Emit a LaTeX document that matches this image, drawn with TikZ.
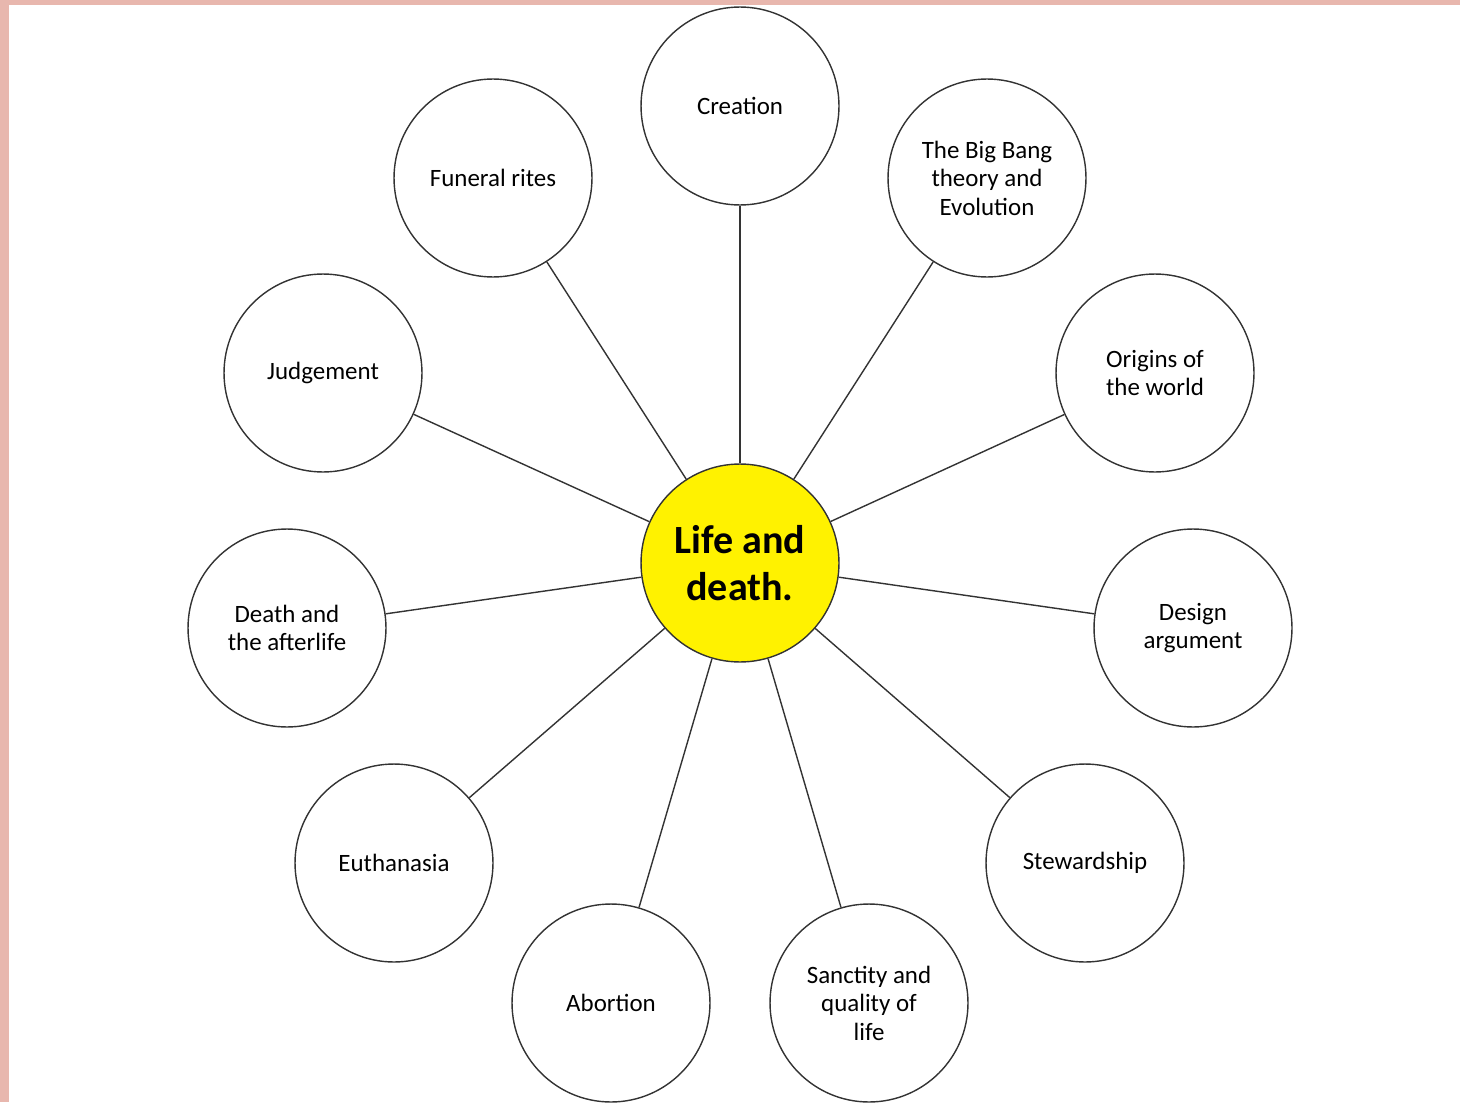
\documentclass[tikz,border=0pt]{standalone}
\usepackage{fontspec}
\setmainfont{Carlito}
\definecolor{edgepink}{HTML}{E8B7AE}
\definecolor{linegray}{HTML}{333333}

\begin{document}
\begin{tikzpicture}[x=0.02cm, y=-0.02cm,
	topic/.style={circle, draw=linegray, line width=0.8pt, minimum size=3.96cm, inner sep=0pt, align=center, font=\fontsize{14.2}{16.2}\selectfont},
	hub/.style={circle, draw=linegray, fill=yellow, line width=0.8pt, minimum size=3.96cm, inner sep=0pt, align=center, font=\fontsize{22.8}{26.5}\selectfont\bfseries},
	spoke/.style={linegray, line width=0.8pt}]
	\useasboundingbox (0,0) rectangle (1460,1102);
	\fill[edgepink] (0,0) rectangle (1460,5);
	\fill[edgepink] (0,0) rectangle (9,1102);

	\node[hub] (L) at (740,563) {Life and\\death.};

	\node[topic] (C) at (740,106) {Creation};
	\node[topic] (BB) at (987,178) {The Big Bang\\theory and\\Evolution};
	\node[topic] (FR) at (493,178) {Funeral rites};
	\node[topic] (J) at (323,373) {Judgement};
	\node[topic] (OW) at (1155,373) {Origins of\\the world};
	\node[topic] (DA) at (287,628) {Death and\\the afterlife};
	\node[topic] (DE) at (1193,628) {Design\\argument};
	\node[topic] (E) at (394,863) {Euthanasia};
	\node[topic] (S) at (1085,863) {Stewardship};
	\node[topic] (A) at (611,1003) {Abortion};
	\node[topic] (SQ) at (869,1003) {Sanctity and\\quality of\\life};

	\draw[spoke] (L) -- (C);
	\draw[spoke] (L) -- (BB);
	\draw[spoke] (L) -- (FR);
	\draw[spoke] (L) -- (J);
	\draw[spoke] (L) -- (OW);
	\draw[spoke] (L) -- (DA);
	\draw[spoke] (L) -- (DE);
	\draw[spoke] (L) -- (E);
	\draw[spoke] (L) -- (S);
	\draw[spoke] (L) -- (A);
	\draw[spoke] (L) -- (SQ);
\end{tikzpicture}
\end{document}
